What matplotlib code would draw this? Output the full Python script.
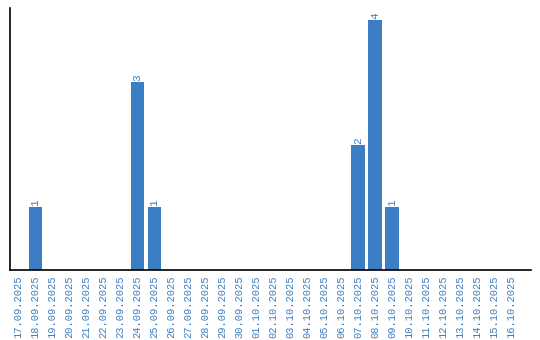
import matplotlib
matplotlib.use('Agg')
import matplotlib.pyplot as plt
import pandas as pd

# dates and counts
dates = pd.date_range('2025-09-17', '2025-10-16', freq='D')
labels = [d.strftime('%d.%m.%Y') for d in dates]
counts_by_day = {
    '18.09.2025': 1,
    '24.09.2025': 3,
    '25.09.2025': 1,
    '07.10.2025': 2,
    '08.10.2025': 4,
    '09.10.2025': 1,
}
values = [counts_by_day.get(lb, 0) for lb in labels]

BAR_COLOR = '#3b7ec4'
TEXT_COLOR = '#3b7ec4'

fig = plt.figure(figsize=(5.4, 3.4), dpi=100)
ax = fig.add_axes([10 / 540, 1 - 270 / 340, 521 / 540, 262 / 340])

x = list(range(len(labels)))
ax.bar(x, values, width=0.82, color=BAR_COLOR)

# value labels above non-empty bars
for xi, v in zip(x, values):
    if v > 0:
        ax.text(xi, v + 0.02, str(v), rotation=90, ha='center', va='bottom',
                color=TEXT_COLOR, fontsize=8, family='Liberation Mono')

# axis line runs a bit past the last day
ax.set_xlim(-0.5, 30.15)
ax.set_ylim(0, 4.19)
ax.set_xticks(x)
ax.set_xticklabels(labels, rotation=90, color=TEXT_COLOR, fontsize=7.5,
                   family='Liberation Mono')
ax.tick_params(axis='x', length=0, pad=4)
ax.set_yticks([])

ax.spines['top'].set_visible(False)
ax.spines['right'].set_visible(False)
ax.spines['left'].set_linewidth(1.2)
ax.spines['bottom'].set_linewidth(1.2)

fig.savefig('out.png', dpi=100)
